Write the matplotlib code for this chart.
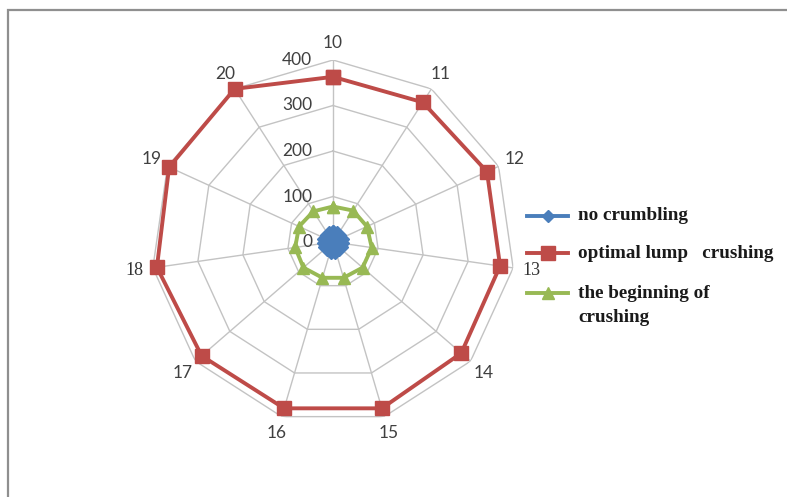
import numpy as np
import matplotlib
matplotlib.use("Agg")
import matplotlib.pyplot as plt
from matplotlib.lines import Line2D
from matplotlib.patches import Rectangle

categories = ["10", "11", "12", "13", "14", "15", "16", "17", "18", "19", "20"]
no_crumbling = [18, 17, 16, 15, 17, 18, 18, 17, 16, 17, 18]
optimal_lump = [363, 365, 372, 371, 373, 381, 381, 382, 391, 396, 400]
beginning = [78, 82, 82, 86, 86, 82, 82, 86, 84, 82, 80]
ring_values = [0, 100, 200, 300, 400]
ring_labels = ["0", "100", "200", "300", "400"]
series_names = ["no crumbling", "optimal lump   crushing", "the beginning of", "crushing"]

W, H = 787, 497
fig = plt.figure(figsize=(W / 100, H / 100), dpi=100)
fig.patch.set_facecolor("white")

# outer frame
fig.patches.append(Rectangle((8 / W, -0.2), 1.5, 1.2 - 10 / H, transform=fig.transFigure,
                             fill=False, edgecolor="#8f8f8f", lw=1.6))

cx, cy, R = 333, 242, 182
ax = fig.add_axes([(cx - R) / W, (H - cy - R) / H, 2 * R / W, 2 * R / H], projection="polar")
ax.set_theta_zero_location("N")
ax.set_theta_direction(-1)
ax.set_ylim(0, 400)
ax.grid(False)
ax.set_xticks([])
ax.set_yticks([])
ax.spines["polar"].set_visible(False)
ax.patch.set_alpha(0)

n = len(categories)
theta = np.arange(n) * 2 * np.pi / n
theta_c = np.append(theta, theta[0])

grid_col = "#c3c3c3"
for rv in ring_values[1:]:
    ax.plot(theta_c, [rv] * (n + 1), color=grid_col, lw=1.0, zorder=1)
for t in theta:
    ax.plot([t, t], [0, 400], color=grid_col, lw=1.0, zorder=1)

def closed(v):
    return list(v) + [v[0]]

blue = "#4a7ebb"
red = "#be4b48"
green = "#98b954"

ax.plot(theta_c, closed(optimal_lump), color=red, lw=2.8, marker="s", ms=9.5, zorder=4, clip_on=False)
ax.plot(theta_c, closed(beginning), color=green, lw=2.8, marker="^", ms=8.5, zorder=5, clip_on=False)
ax.plot(theta_c, closed(no_crumbling), color=blue, lw=3.0, marker="D", ms=9, zorder=6, clip_on=False)

# category labels
serif_labels = {"13", "18"}
for t, lab in zip(theta, categories):
    if lab in serif_labels:
        ax.text(t, 440, lab, ha="center", va="center", fontsize=13,
                family="Liberation Serif", color="#333333")
    else:
        ax.text(t, 438, lab, ha="center", va="center", fontsize=12.5,
                family="Lato", color="#404040")

# radial labels
for rv, lab in zip(ring_values, ring_labels):
    ax.annotate(lab, xy=(0, rv), xytext=(-15, 0), textcoords="offset points",
                ha="right", va="center", fontsize=12.5, family="Lato", color="#404040",
                zorder=7)

# legend (drawn entry by entry so the wrapped label aligns like the original)
leg_handles = [
    (blue, "D", 6),
    (red, "s", 10),
    (green, "^", 8.5),
]
row_y = [216, 253, 293]
for (col, mk, ms), yy in zip(leg_handles, row_y):
    fig.add_artist(Line2D([527 / W, 568 / W], [1 - yy / H] * 2, transform=fig.transFigure,
                          color=col, lw=2.8))
    fig.add_artist(Line2D([548 / W], [1 - yy / H], transform=fig.transFigure,
                          color=col, marker=mk, ms=ms, lw=0))
text_y = [216, 253, 293, 318]
for lab, yy in zip(series_names, text_y):
    fig.text(578 / W, 1 - yy / H, lab, ha="left", va="center",
             family="Liberation Serif", weight="bold", fontsize=13.8, color="#1a1a1a")

fig.savefig("out.png", dpi=100, facecolor="white")
